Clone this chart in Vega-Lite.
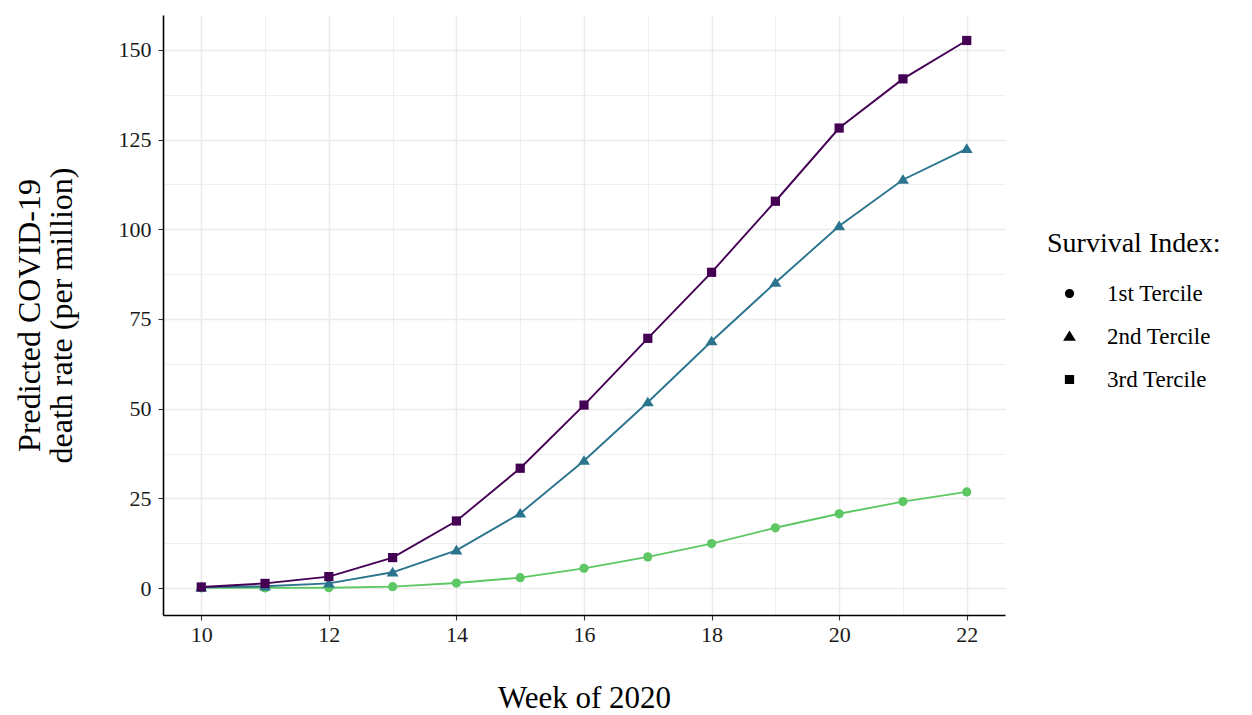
{
  "$schema": "https://vega.github.io/schema/vega-lite/v6.json",
  "autosize": {"type": "none"},
  "width": 842,
  "height": 600,
  "padding": {"left": 163, "top": 15, "right": 247, "bottom": 100},
  "background": "white",
  "config": {
    "font": "Liberation Serif",
    "view": {"stroke": null},
    "axis": {
      "labelFont": "Liberation Serif",
      "titleFont": "Liberation Serif",
      "labelColor": "#1a1a1a",
      "titleColor": "black",
      "titleFontWeight": "normal",
      "domainColor": "black",
      "domainWidth": 1.6,
      "tickColor": "#333333",
      "tickWidth": 1.1,
      "tickSize": 5,
      "gridColor": "#EBEBEB"
    },
    "legend": {
      "labelFont": "Liberation Serif",
      "titleFont": "Liberation Serif"
    }
  },
  "data": {
    "values": [
      {"week": 10, "tercile": "1st Tercile", "rate": 0.05},
      {"week": 11, "tercile": "1st Tercile", "rate": 0.05},
      {"week": 12, "tercile": "1st Tercile", "rate": 0.1},
      {"week": 13, "tercile": "1st Tercile", "rate": 0.4},
      {"week": 14, "tercile": "1st Tercile", "rate": 1.4},
      {"week": 15, "tercile": "1st Tercile", "rate": 2.9},
      {"week": 16, "tercile": "1st Tercile", "rate": 5.5},
      {"week": 17, "tercile": "1st Tercile", "rate": 8.7},
      {"week": 18, "tercile": "1st Tercile", "rate": 12.4},
      {"week": 19, "tercile": "1st Tercile", "rate": 16.8},
      {"week": 20, "tercile": "1st Tercile", "rate": 20.7},
      {"week": 21, "tercile": "1st Tercile", "rate": 24.1},
      {"week": 22, "tercile": "1st Tercile", "rate": 26.8},
      {"week": 10, "tercile": "2nd Tercile", "rate": 0.2},
      {"week": 11, "tercile": "2nd Tercile", "rate": 0.5},
      {"week": 12, "tercile": "2nd Tercile", "rate": 1.3},
      {"week": 13, "tercile": "2nd Tercile", "rate": 4.4},
      {"week": 14, "tercile": "2nd Tercile", "rate": 10.5},
      {"week": 15, "tercile": "2nd Tercile", "rate": 20.8},
      {"week": 16, "tercile": "2nd Tercile", "rate": 35.5},
      {"week": 17, "tercile": "2nd Tercile", "rate": 51.8},
      {"week": 18, "tercile": "2nd Tercile", "rate": 68.8},
      {"week": 19, "tercile": "2nd Tercile", "rate": 85.1},
      {"week": 20, "tercile": "2nd Tercile", "rate": 100.9},
      {"week": 21, "tercile": "2nd Tercile", "rate": 113.8},
      {"week": 22, "tercile": "2nd Tercile", "rate": 122.4},
      {"week": 10, "tercile": "3rd Tercile", "rate": 0.3},
      {"week": 11, "tercile": "3rd Tercile", "rate": 1.3},
      {"week": 12, "tercile": "3rd Tercile", "rate": 3.2},
      {"week": 13, "tercile": "3rd Tercile", "rate": 8.5},
      {"week": 14, "tercile": "3rd Tercile", "rate": 18.7},
      {"week": 15, "tercile": "3rd Tercile", "rate": 33.4},
      {"week": 16, "tercile": "3rd Tercile", "rate": 51.0},
      {"week": 17, "tercile": "3rd Tercile", "rate": 69.6},
      {"week": 18, "tercile": "3rd Tercile", "rate": 88.0},
      {"week": 19, "tercile": "3rd Tercile", "rate": 107.8},
      {"week": 20, "tercile": "3rd Tercile", "rate": 128.2},
      {"week": 21, "tercile": "3rd Tercile", "rate": 141.9},
      {"week": 22, "tercile": "3rd Tercile", "rate": 152.6}
    ]
  },
  "encoding": {
    "x": {
      "field": "week",
      "type": "quantitative",
      "scale": {"domain": [9.4, 22.6], "nice": false, "zero": false},
      "axis": {
        "title": "Week of 2020",
        "titleFontSize": 31,
        "titleY": 92,
        "titleBaseline": "alphabetic",
        "values": [10, 11, 12, 13, 14, 15, 16, 17, 18, 19, 20, 21, 22],
        "labelExpr": "datum.value % 2 == 0 ? datum.label : ''",
        "labelFontSize": 22,
        "labelPadding": 4,
        "tickOpacity": {"condition": {"test": "datum.value % 2 == 1", "value": 0}, "value": 1},
        "gridWidth": {"condition": {"test": "datum.value % 2 == 1", "value": 0.8}, "value": 1.6}
      }
    },
    "y": {
      "field": "rate",
      "type": "quantitative",
      "scale": {"domain": [-7.5, 159.7], "nice": false, "zero": false},
      "axis": {
        "title": ["Predicted COVID-19", "death rate (per million)"],
        "titleFontSize": 32,
        "titleLineHeight": 32,
        "titleX": -134,
        "titleY": 300,
        "titleAlign": "center",
        "titleBaseline": "middle",
        "values": [0, 12.5, 25, 37.5, 50, 62.5, 75, 87.5, 100, 112.5, 125, 137.5, 150],
        "labelExpr": "datum.value % 25 == 0 ? datum.label : ''",
        "labelFontSize": 22,
        "labelPadding": 7,
        "tickOpacity": {"condition": {"test": "datum.value % 25 != 0", "value": 0}, "value": 1},
        "gridWidth": {"condition": {"test": "datum.value % 25 != 0", "value": 0.8}, "value": 1.6}
      }
    },
    "color": {
      "field": "tercile",
      "type": "nominal",
      "scale": {"domain": ["3rd Tercile", "2nd Tercile", "1st Tercile"], "range": ["#440154", "#2B748E", "#5DC863"]},
      "legend": null
    }
  },
  "layer": [
    {
      "mark": {"type": "line", "strokeWidth": 1.9}
    },
    {
      "mark": {"type": "point", "filled": true, "opacity": 1, "size": 85},
      "encoding": {
        "shape": {
          "field": "tercile",
          "type": "nominal",
          "scale": {"domain": ["1st Tercile", "2nd Tercile", "3rd Tercile"], "range": ["circle", "M0,-1.2L1.3,0.9L-1.3,0.9Z", "square"]},
          "legend": {
            "title": "Survival Index:",
            "orient": "none",
            "legendX": 884,
            "legendY": 215,
            "padding": 0,
            "titleFontSize": 28,
            "titleFontWeight": "normal",
            "titleColor": "black",
            "titlePadding": 24,
            "labelFontSize": 23,
            "labelColor": "black",
            "labelOffset": 26,
            "rowPadding": 19,
            "symbolSize": 60,
            "symbolOffset": 11,
            "symbolFillColor": "black",
            "symbolStrokeColor": "black",
            "symbolOpacity": 1
          }
        }
      }
    }
  ]
}
